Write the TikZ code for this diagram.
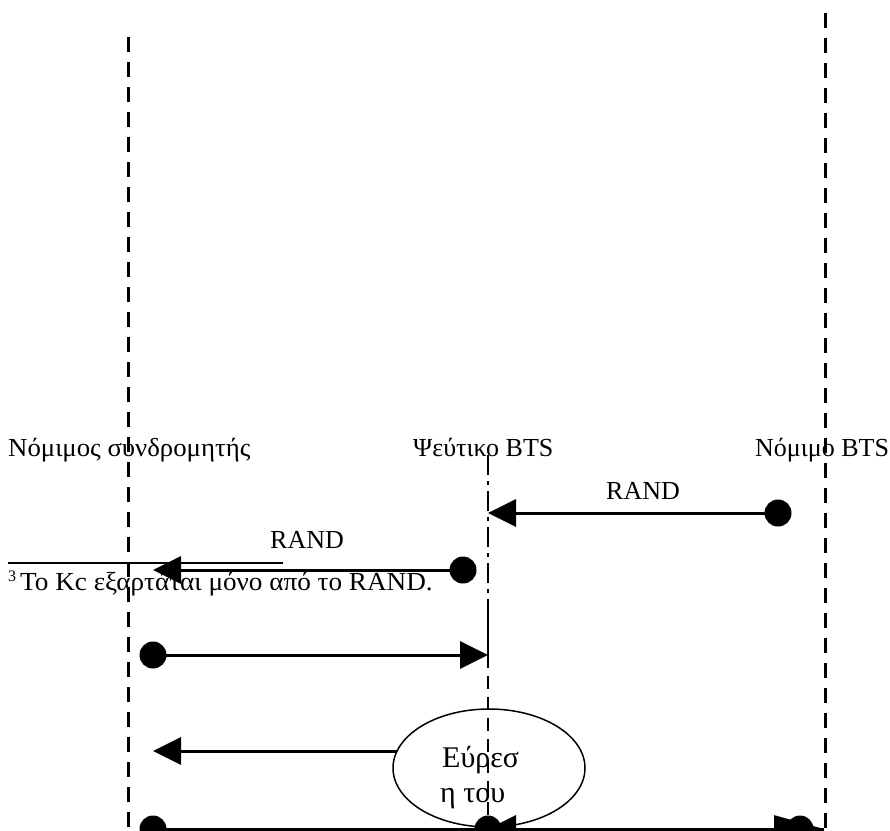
\documentclass[tikz,border=0pt]{standalone}
\usepackage{fontspec}
\setmainfont{Liberation Serif}
\usetikzlibrary{arrows.meta,shapes.geometric}
\begin{document}
\begin{tikzpicture}[x=1pt,y=-1pt,
  lifeline/.style={line width=3pt, dash pattern=on 15pt off 10pt},
  midline/.style={line width=2pt, dash pattern=on 20pt off 6pt on 4pt off 6pt},
  msg/.style={line width=3pt, -{Triangle[length=28pt,width=27pt]}},
  dot/.style={circle, fill=black, inner sep=0pt, minimum size=27pt},
  lbl/.style={anchor=base west, inner sep=0pt, font=\fontsize{26}{30}\selectfont}]
\useasboundingbox (0,0) rectangle (890,830);
\clip (0,0) rectangle (890,830);

% participants
\node[lbl] (subs) at (8,456) {\scalebox{1.03}[1]{Νόμιμος συνδρομητής}};
\node[lbl] (fake) at (413,456) {Ψεύτικο BTS};
\node[lbl] (real) at (755,456) {Νόμιμο BTS};

% lifelines of the subscriber and the genuine BTS
\coordinate (Lt) at (128,37);  \coordinate (Lb) at (128,832);
\coordinate (Rt) at (825.5,13); \coordinate (Rb) at (825.5,832);
\draw[lifeline] (Lt) -- (Lb);
\draw[lifeline] (Rt) -- (Rb);

% RAND from the genuine BTS to the false BTS
\node[dot] (d1) at (778,513) {};
\coordinate (m1) at (488,513);
\draw[msg] (d1.center) -- (m1);
\node[lbl] (r1) at (606,499) {RAND};

% RAND forwarded to the subscriber
\node[dot] (d2) at (463,570) {};
\coordinate (s2) at (153,570);
\draw[msg] (d2.center) -- (s2);
\node[lbl] (r2) at (270,548) {RAND};

% footnote
\coordinate (fa) at (8,563); \coordinate (fb) at (283,563);
\draw[line width=1.5pt] (fa) -- (fb);
\node[lbl] (fnm) at (8,581) {\fontsize{16}{18}\selectfont 3};
\node[lbl] (fn) at (20,590) {\scalebox{1.045}[1]{Το Kc εξαρτάται μόνο από το RAND.}};

% reply from the subscriber
\node[dot] (d3) at (153,655) {};
\coordinate (m3) at (488,655);
\draw[msg] (d3.center) -- (m3);

% message leaving the key search
\coordinate (f4) at (470,751); \coordinate (s4) at (153,751);
\draw[msg] (f4) -- (s4);
\node[ellipse, draw, fill=white, line width=1.5pt, minimum width=192pt,
      minimum height=118pt, inner sep=0pt] (find) at (489,768) {};
\node[lbl, font=\fontsize{30}{34}\selectfont] (t1) at (442,767) {Εύρεσ};
\node[lbl, font=\fontsize{30}{34}\selectfont] (t2) at (440,802) {η του};

% lifeline of the false BTS
\coordinate (Mt) at (488,455); \coordinate (Ma) at (488,600);
\coordinate (Mb) at (488,655); \coordinate (Mc) at (488,832);
\draw[midline] (Mt) -- (Ma);
\draw[line width=2pt] (Ma) -- (Mb);
\draw[line width=2.5pt, dash pattern=on 13pt off 8pt] (Mb) -- (Mc);

% last row of messages
\node[dot] (b1) at (153,829) {};
\node[dot] (b2) at (488,829) {};
\node[dot] (b3) at (800,829) {};
\coordinate (bm) at (488,829); \coordinate (br) at (824,829);
\draw[line width=3pt] (b1.center) -- (br);
\draw[msg] (b3.center) -- (bm);
\draw[line width=3pt, -{Triangle[length=50pt,width=27pt]}] (b2.center) -- (br);
\end{tikzpicture}
\end{document}
